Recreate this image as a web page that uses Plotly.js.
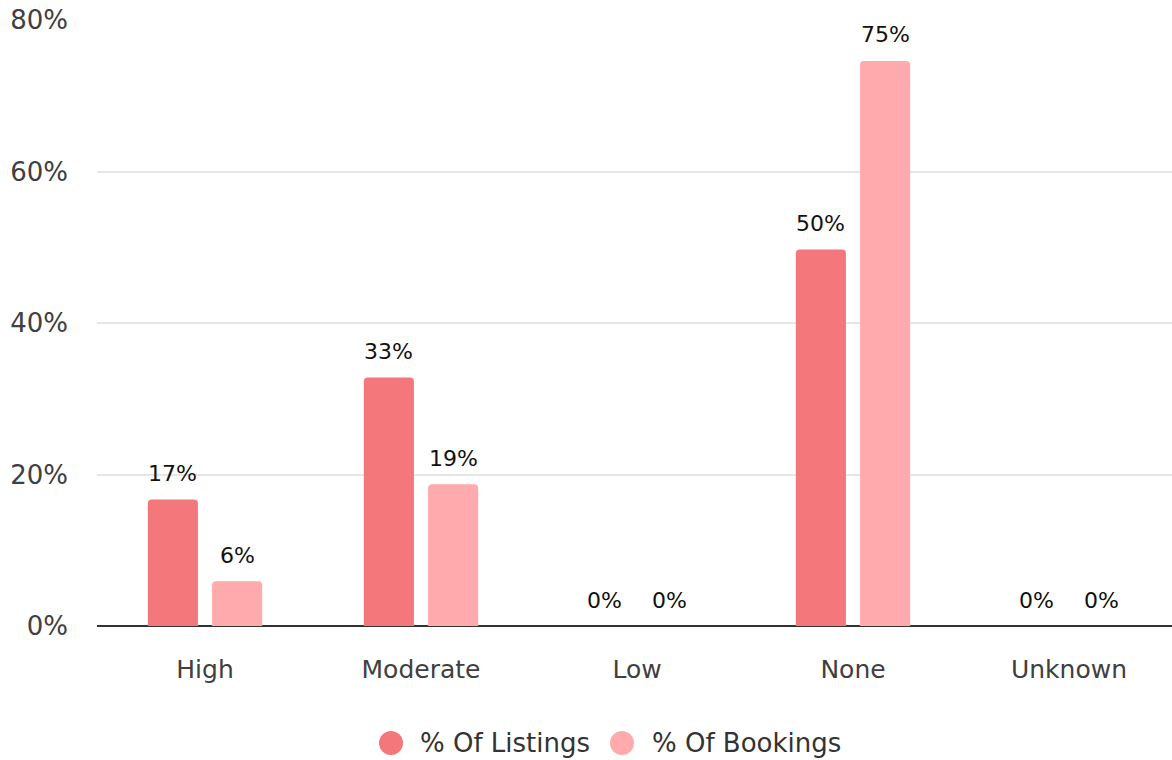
<!DOCTYPE html>
<html><head><meta charset="utf-8">
<script src="https://cdn.plot.ly/plotly-3.0.1.min.js"></script>
<style>html,body{margin:0;padding:0;background:#fff;overflow:hidden}#chart{width:1177px;height:760px}</style>
</head><body><div id="chart"></div>
<script>
const categories = ["High", "Moderate", "Low", "None", "Unknown"];
const listingsPct = [16.7, 32.8, 0, 49.7, 0];
const bookingsPct = [5.9, 18.7, 0, 74.6, 0];
const seriesNames = ["% Of Listings", "% Of Bookings"];
const seriesColors = ["#F4777B", "#FFAAAC"];
const yTickVals = [0, 20, 40, 60, 80];
const yTickText = ["0%", "20%", "40%", "60%", "80%"];

const font = "DejaVu Sans, Verdana, sans-serif";
const W = 1177, H = 760, L = 97, T = 20, B = 134;
const bargap = 0.405, bargroupgap = 0.22;
const slot = (1 - bargap) / 2;
const offsets = [-slot / 2, slot / 2];
const seriesVals = [listingsPct, bookingsPct];

const data = seriesVals.map((vals, i) => ({
  type: "bar", x: categories, y: vals, name: seriesNames[i],
  marker: {color: seriesColors[i]}, showlegend: false, hoverinfo: "skip"
}));

const annotations = [];
seriesVals.forEach((vals, i) => {
  vals.forEach((v, j) => {
    annotations.push({
      x: j + offsets[i], y: v, xref: "x", yref: "y",
      text: Math.round(v) + "%", showarrow: false,
      xanchor: "center", yanchor: "middle", yshift: 26,
      font: {family: font, size: 22, color: "#111"}
    });
  });
});

// manual legend (circle markers)
const pw = W - L, ph = H - T - B;
const px = p => (p - L) / pw;
const legendY = (626 - 743) / ph;
const legendCircleX = [391, 622];
const legendTextX = [418, 650];
const shapes = [];
seriesNames.forEach((n, i) => {
  shapes.push({
    type: "circle", xref: "paper", yref: "paper", xsizemode: "pixel", ysizemode: "pixel",
    xanchor: px(legendCircleX[i]), yanchor: legendY, x0: -12, x1: 12, y0: -12, y1: 12,
    fillcolor: seriesColors[i], line: {width: 0}
  });
  annotations.push({
    x: px(legendTextX[i]), y: legendY, xref: "paper", yref: "paper",
    text: n, showarrow: false, xanchor: "left", yanchor: "middle",
    font: {family: font, size: 26, color: "#333"}
  });
});

const layout = {
  width: W, height: H,
  margin: {l: L, r: 0, t: T, b: B},
  paper_bgcolor: "#fff", plot_bgcolor: "#fff",
  font: {family: font, size: 24, color: "#404040"},
  barmode: "group", bargap: bargap, bargroupgap: bargroupgap, barcornerradius: 4,
  xaxis: {
    type: "category", showgrid: false, ticks: "", ticklabelstandoff: 26,
    tickfont: {size: 25, color: "#404040"}, showline: false, zeroline: false
  },
  yaxis: {
    range: [0, 80], tickvals: yTickVals, ticktext: yTickText,
    gridcolor: "#e6e6e6", gridwidth: 2, zeroline: true, zerolinecolor: "#333", zerolinewidth: 2,
    ticks: "", ticklabelstandoff: 28, tickfont: {size: 26, color: "#404040"}, fixedrange: true
  },
  showlegend: false,
  annotations: annotations,
  shapes: shapes
};
Plotly.newPlot("chart", data, layout, {displayModeBar: false, staticPlot: true});
</script></body></html>
